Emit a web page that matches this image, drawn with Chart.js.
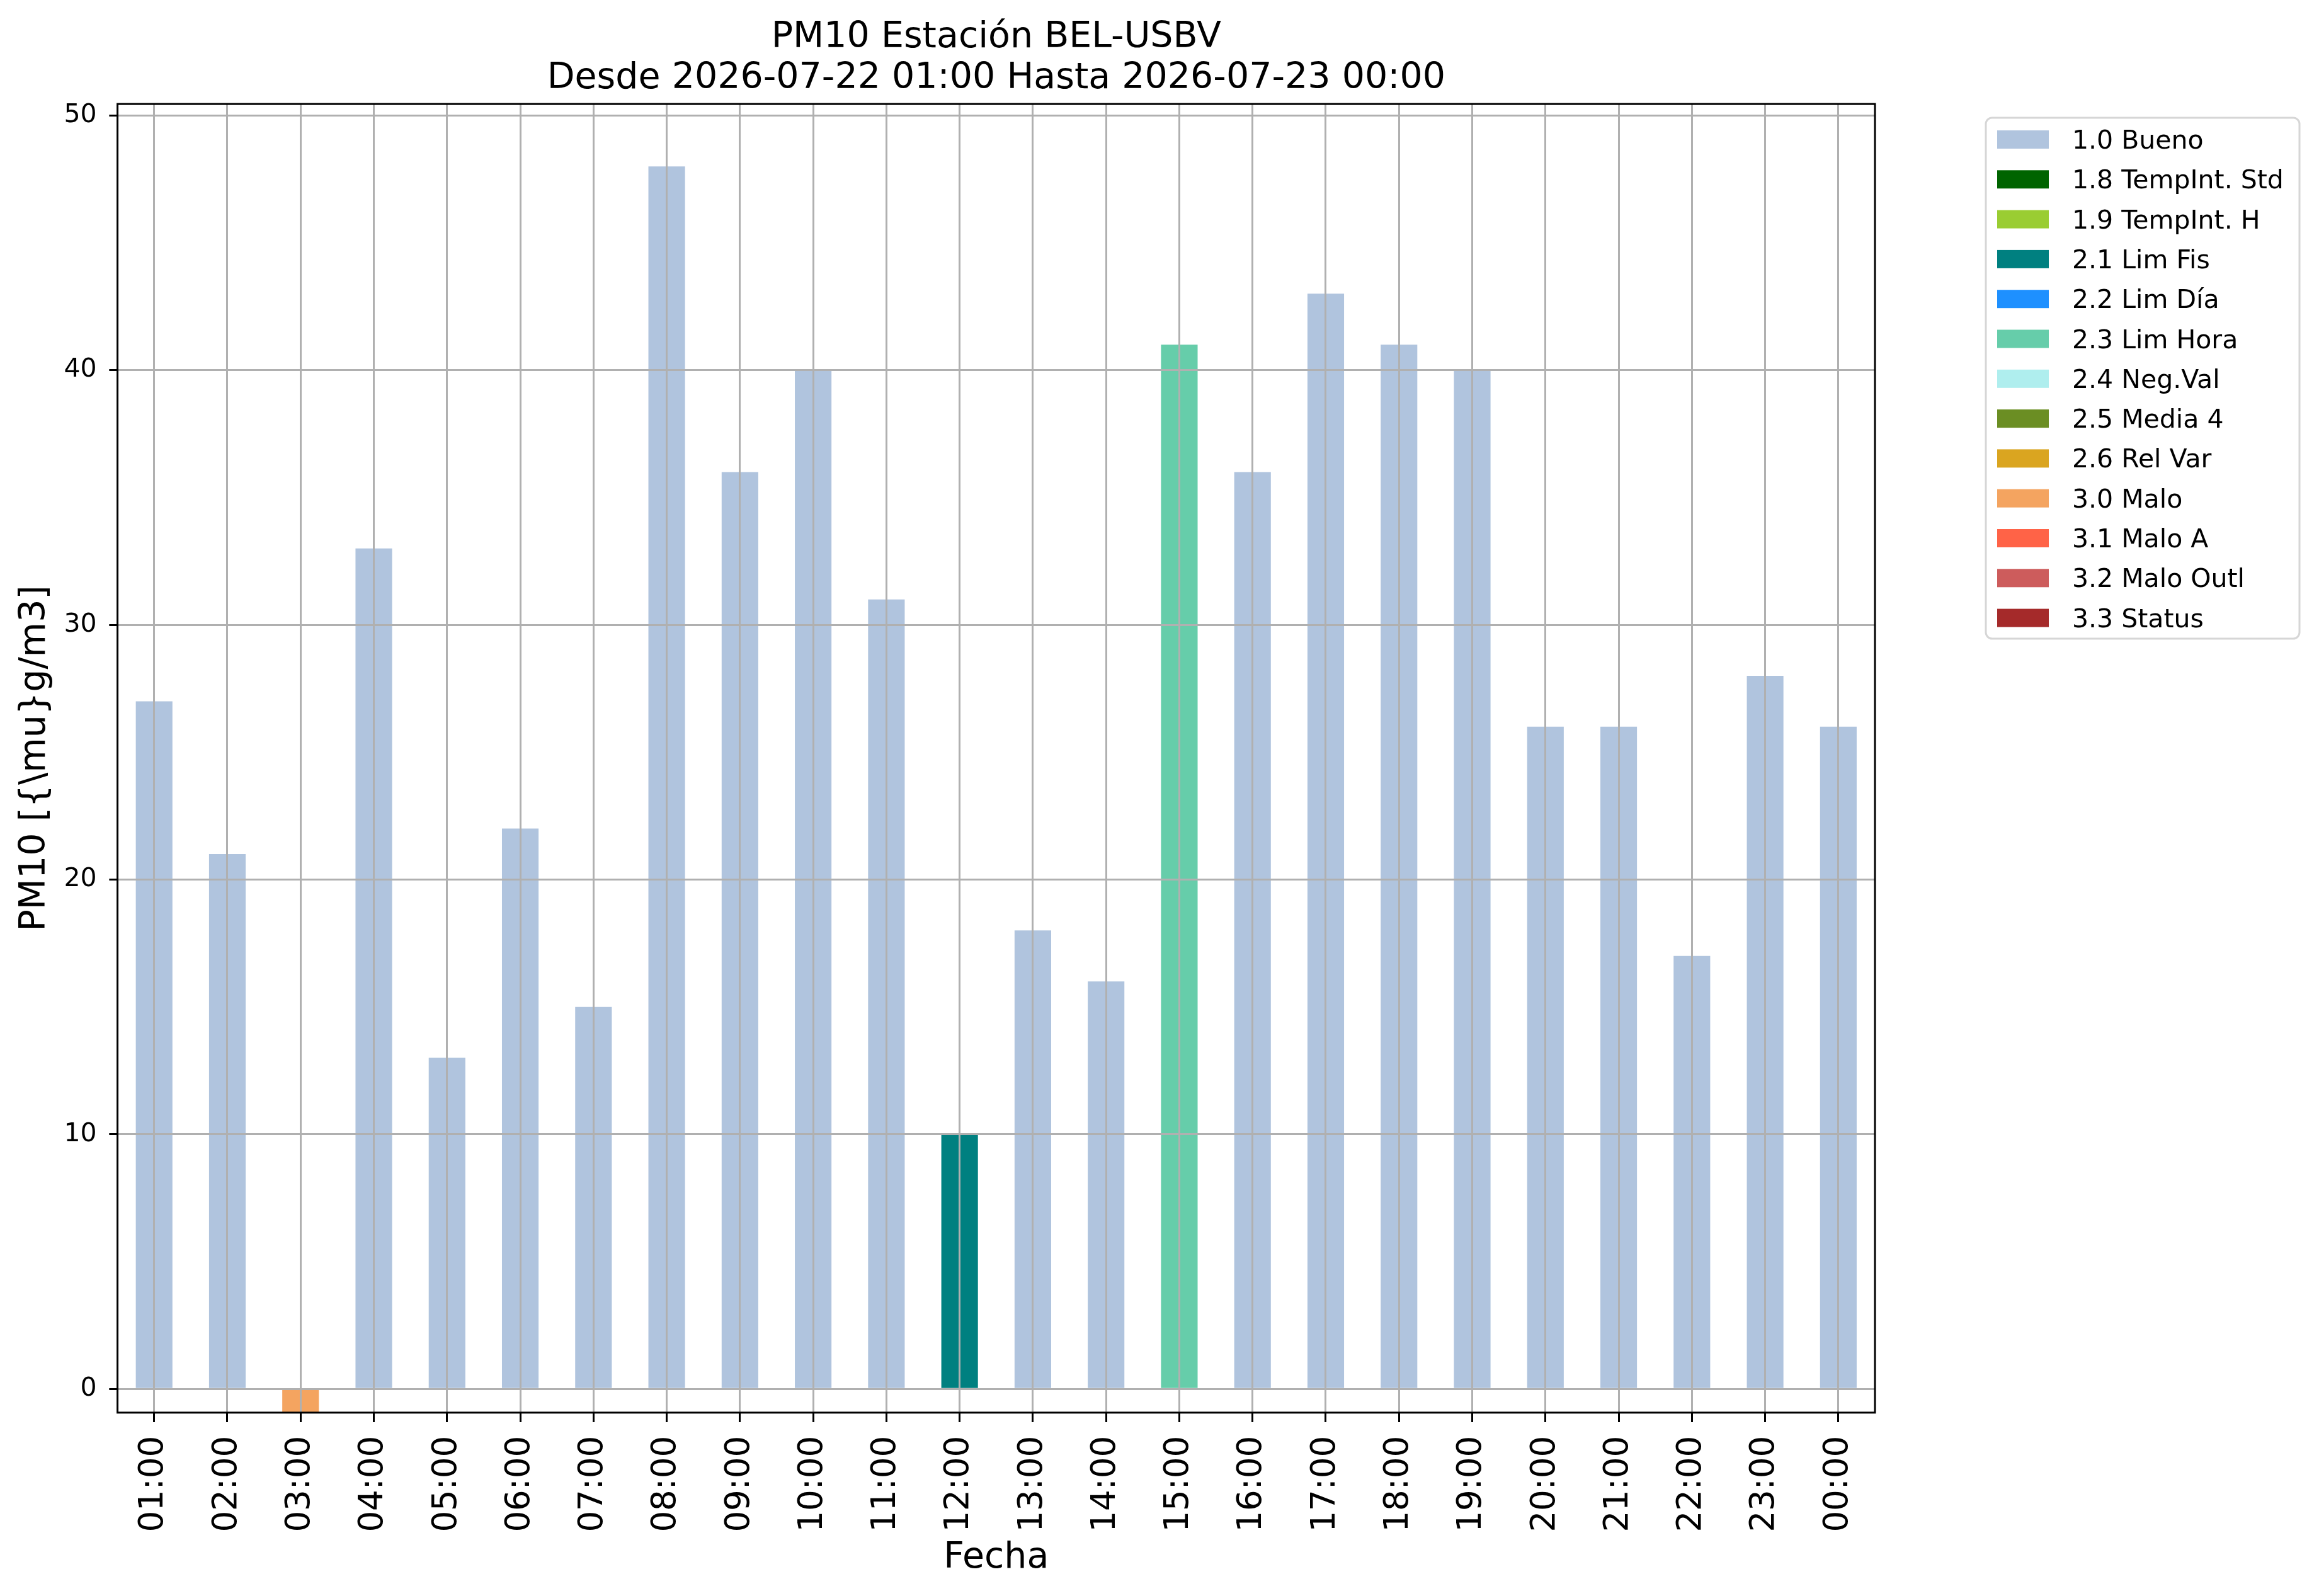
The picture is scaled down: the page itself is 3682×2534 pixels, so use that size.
<!DOCTYPE html>
<html lang="es">
<head>
  <meta charset="UTF-8">
  <title>PM10 Estación BEL-USBV</title>
  <script src="https://cdn.jsdelivr.net/npm/chart.js@4.4.1/dist/chart.umd.min.js"></script>
  <style>
    html, body { margin: 0; padding: 0; background: #fff; }
    canvas { display: block; }
  </style>
</head>
<body>
  <canvas id="pm10-chart" width="3682" height="2534"></canvas>
  <script>
    // horas del periodo (2026-07-22 01:00 -> 2026-07-23 00:00)
    const hours = ['01:00', '02:00', '03:00', '04:00', '05:00', '06:00', '07:00', '08:00',
                   '09:00', '10:00', '11:00', '12:00', '13:00', '14:00', '15:00', '16:00',
                   '17:00', '18:00', '19:00', '20:00', '21:00', '22:00', '23:00', '00:00'];

    // PM10 horario
    const pm10 = [27, 21, -1, 33, 13, 22, 15, 48, 36, 40, 31, 10,
                  18, 16, 41, 36, 43, 41, 40, 26, 26, 17, 28, 26];

    // flags de validacion y sus colores
    const flagLabels = ['1.0 Bueno', '1.8 TempInt. Std', '1.9 TempInt. H', '2.1 Lim Fis',
                        '2.2 Lim Día', '2.3 Lim Hora', '2.4 Neg.Val', '2.5 Media 4',
                        '2.6 Rel Var', '3.0 Malo', '3.1 Malo A', '3.2 Malo Outl', '3.3 Status'];
    const flagColors = ['#B0C4DE', '#006400', '#9ACD32', '#008080', '#1E90FF', '#66CDAA',
                        '#AFEEEE', '#6B8E23', '#DAA520', '#F4A460', '#FF6347', '#CD5C5C', '#A52A2A'];

    // flag de cada hora (indice en flagLabels)
    const hourFlag = [0, 0, 9, 0, 0, 0, 0, 0, 0, 0, 0, 3,
                      0, 0, 5, 0, 0, 0, 0, 0, 0, 0, 0, 0];

    const titleLines = ['PM10 Estación BEL-USBV', 'Desde 2026-07-22 01:00 Hasta 2026-07-23 00:00'];

    Chart.defaults.font.family = "'DejaVu Sans', sans-serif";
    Chart.defaults.color = '#000';

    // one dataset per flag, only the hours carrying that flag
    const datasets = flagLabels.map((label, i) => ({
      label: label,
      data: pm10.map((v, j) => (hourFlag[j] === i ? v : null)),
      backgroundColor: flagColors[i],
      borderWidth: 0,
      barPercentage: 0.5,
      categoryPercentage: 1.0,
    }));

    const GRID = '#b0b0b0';

    // grid on top of the bars + full frame + boxed legend (matplotlib look)
    const mplLook = {
      id: 'mplLook',
      afterDatasetsDraw(chart) {
        const ctx = chart.ctx;
        const a = chart.chartArea;
        ctx.save();
        chart.scales.x.drawGrid(a);
        chart.scales.y.drawGrid(a);
        ctx.strokeStyle = '#000';
        ctx.lineWidth = 3;
        ctx.strokeRect(a.left, a.top, a.right - a.left, a.bottom - a.top);
        ctx.restore();
      },
      afterDraw(chart) {
        const ctx = chart.ctx;
        const lx = 3153, ly = 187, lw = 498, lh = 827;
        ctx.save();
        ctx.beginPath();
        ctx.roundRect(lx, ly, lw, lh, 10);
        ctx.fillStyle = '#fff';
        ctx.fill();
        ctx.strokeStyle = '#d6d6d6';
        ctx.lineWidth = 3;
        ctx.stroke();
        ctx.font = "41px 'DejaVu Sans'";
        ctx.textBaseline = 'alphabetic';
        ctx.textAlign = 'left';
        chart.data.datasets.forEach((ds, i) => {
          const y0 = 207 + i * 63.3;
          ctx.fillStyle = ds.backgroundColor;
          ctx.fillRect(3171, y0, 82, 29);
          ctx.fillStyle = '#000';
          ctx.fillText(ds.label, 3290, y0 + 29);
        });
        ctx.restore();
      }
    };

    new Chart(document.getElementById('pm10-chart'), {
      type: 'bar',
      data: { labels: hours, datasets: datasets },
      options: {
        responsive: false,
        devicePixelRatio: 1,
        animation: false,
        layout: { padding: { left: 0, right: 705, top: 0, bottom: 0 } },
        plugins: {
          legend: { display: false },
          tooltip: { enabled: false },
          title: {
            display: true,
            fullSize: false,
            text: titleLines,
            color: '#000',
            font: { size: 57, weight: 'normal', lineHeight: 1.15 },
            padding: { top: 27, bottom: 7 },
          },
        },
        scales: {
          x: {
            stacked: true,
            offset: true,
            grid: { offset: false, color: GRID, lineWidth: 3, tickLength: 15, tickColor: '#000', tickWidth: 3 },
            border: { display: false },
            ticks: { autoSkip: false, maxRotation: 90, minRotation: 90, padding: 22, color: '#000', font: { size: 53 } },
            title: { display: true, text: 'Fecha', color: '#000', font: { size: 57 }, padding: { top: -15, bottom: 26 } },
          },
          y: {
            stacked: true,
            min: -0.93,
            max: 50.45,
            grid: { color: GRID, lineWidth: 3, tickLength: 13, tickColor: '#000', tickWidth: 3 },
            border: { display: false },
            ticks: { stepSize: 10, includeBounds: false, padding: 20, color: '#000', font: { size: 41 } },
            title: { display: true, text: 'PM10 [{\\mu}g/m3]', color: '#000', font: { size: 57 }, padding: { top: 22, bottom: -9 } },
          },
        },
      },
      plugins: [mplLook],
    });
  </script>
</body>
</html>
